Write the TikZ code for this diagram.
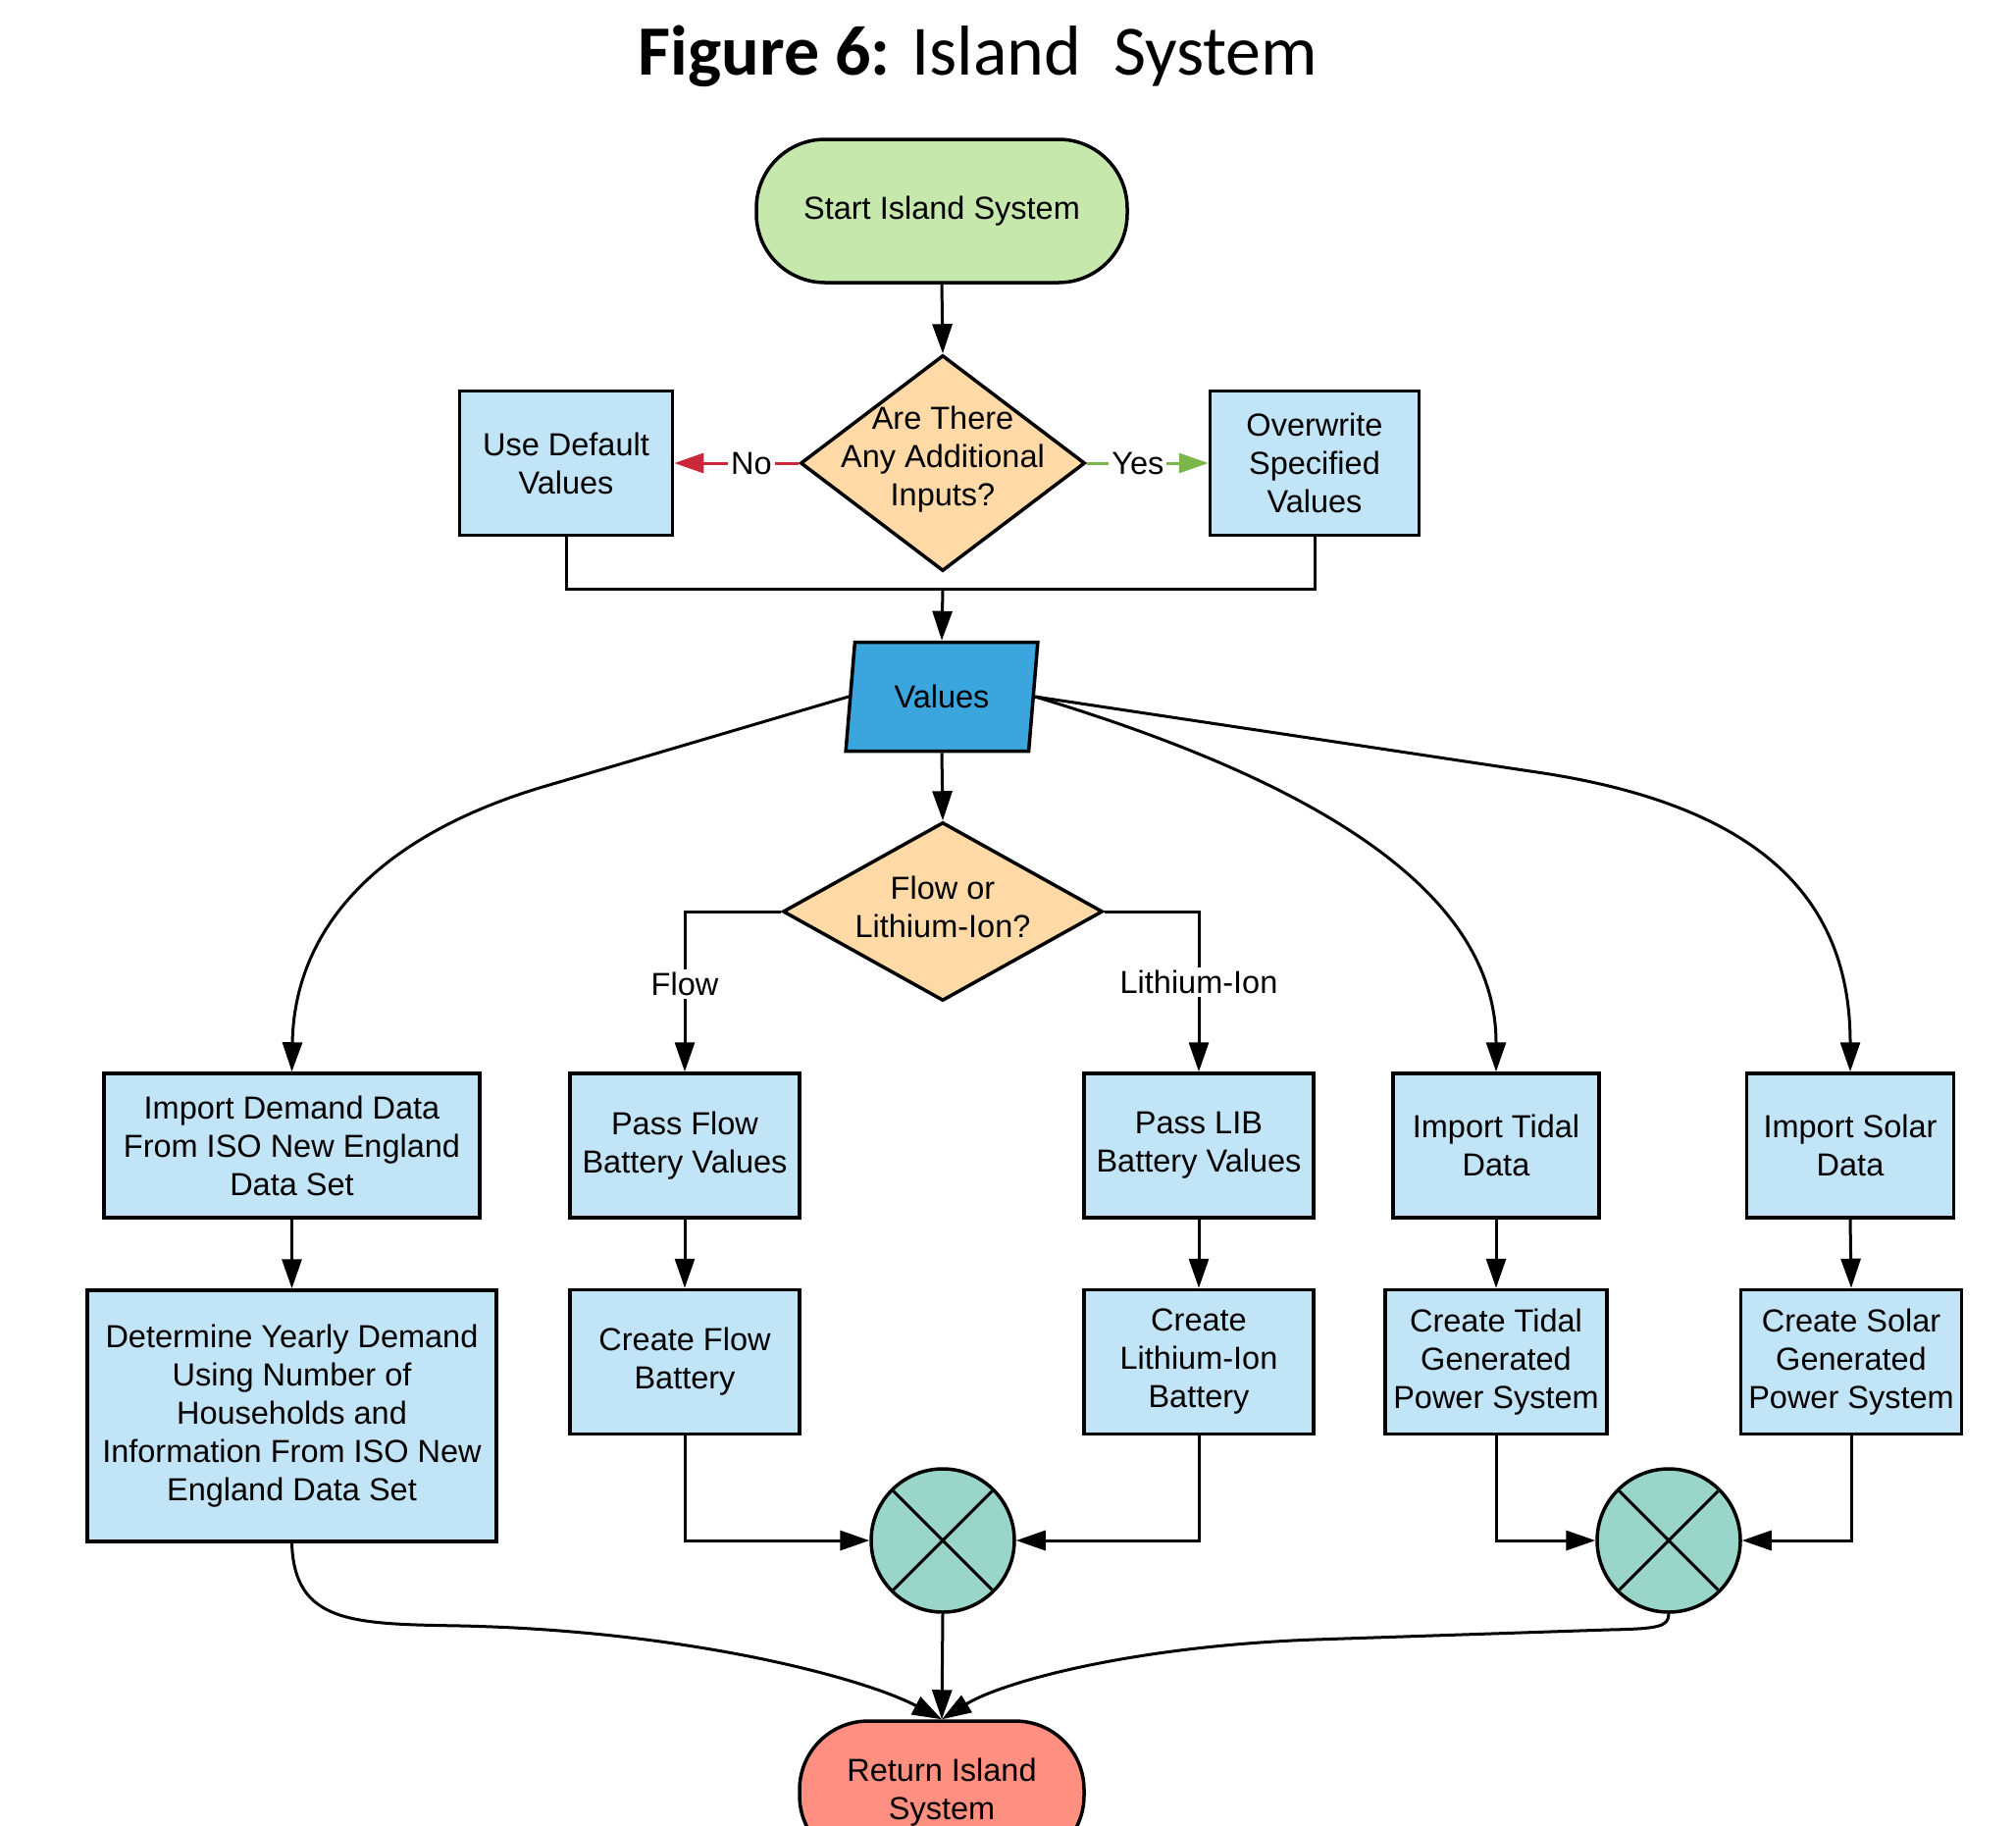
\documentclass[tikz,border=0pt]{standalone}
\usepackage{fontspec}
\setmainfont{Liberation Sans}
\newfontfamily\titlefont{Carlito}
\usetikzlibrary{shapes.geometric,arrows.meta}
\definecolor{startgreen}{RGB}{199,232,172}
\definecolor{decor}{RGB}{255,217,166}
\definecolor{boxblue}{RGB}{193,228,246}
\definecolor{valblue}{RGB}{58,166,221}
\definecolor{juncteal}{RGB}{154,213,202}
\definecolor{retred}{RGB}{255,143,128}
\definecolor{nored}{RGB}{200,40,58}
\definecolor{yesgreen}{RGB}{122,182,72}
\begin{document}
\begin{tikzpicture}[x=1pt,y=-1pt,
  every node/.style={font=\fontsize{32.5}{39}\selectfont},
  box/.style={draw, line width=3.5pt, fill=boxblue, align=center, inner sep=0pt, minimum height=147pt},
  term/.style={draw, line width=3.5pt, rounded corners=70pt, align=center, minimum width=290pt, minimum height=146pt},
  decision/.style={draw, line width=3.5pt, diamond, fill=decor, inner sep=0pt},
  junc/.style={draw, line width=3.5pt, circle, fill=juncteal, minimum size=146pt, inner sep=0pt},
  txt/.style={align=center, inner sep=0pt},
  lbl/.style={fill=white, inner sep=3pt},
  conn/.style={line width=3pt},
  arr/.style={line width=3pt, -{Triangle[length=30pt,width=20pt]}},
]
\useasboundingbox (0,0) rectangle (2055,1860);

% title
\node[anchor=base, inner sep=0pt, font=\titlefont\fontsize{72}{80}\selectfont] (title) at (997,76) {\textbf{Figure 6:} Island\ \ System};

% start
\node[term, fill=startgreen, minimum width=378pt] (ST) at (960,215) {Start Island System};

% decision 1
\node[decision, minimum width=290pt, minimum height=220pt] (D1) at (961,472) {};
\node[txt] (D1t) at (961,468) {Are There\\Any Additional\\Inputs?};

\node[box, minimum width=217pt] (UD) at (577,472) {Use Default\\Values};
\node[box, minimum width=213pt] (OV) at (1340,472) {Overwrite\\Specified\\Values};

% values
\node[draw, line width=3.5pt, trapezium, trapezium left angle=78, trapezium right angle=102,
      trapezium stretches=true, minimum width=196pt, minimum height=111pt, fill=valblue, inner sep=0pt] (V) at (960,710) {Values};

% decision 2
\node[decision, minimum width=326pt, minimum height=182pt] (D2) at (961,929) {};
\node[txt] (D2t) at (961,924) {Flow or\\Lithium-Ion?};

% row 1
\node[box, minimum width=383pt] (ID) at (297.5,1167.5) {Import Demand Data\\From ISO New England\\Data Set};
\node[box, minimum width=234pt] (PF) at (698,1167.5) {Pass Flow\\Battery Values};
\node[box, minimum width=234pt] (PL) at (1222,1167.5) {Pass LIB\\Battery Values};
\node[box, minimum width=210pt] (IT) at (1525,1167.5) {Import Tidal\\Data};
\node[box, minimum width=211pt] (IS) at (1886,1167.5) {Import Solar\\Data};

% row 2
\node[box, minimum width=417pt, minimum height=256pt] (DY) at (297.5,1443) {Determine Yearly Demand\\Using Number of\\Households and\\Information From ISO New\\England Data Set};
\node[box, minimum width=234pt] (CF) at (698,1388) {Create Flow\\Battery};
\node[box, minimum width=234pt] (CL) at (1222,1388) {Create\\Lithium-Ion\\Battery};
\node[box, minimum width=226pt] (CT) at (1525,1388) {Create Tidal\\Generated\\Power System};
\node[box, minimum width=225pt] (CS) at (1887,1388) {Create Solar\\Generated\\Power System};

% junctions
\node[junc] (C1) at (961,1570) {};
\node[junc] (C2) at (1701,1570) {};
\draw[line width=3pt] (C1.center) -- ++(45:71) (C1.center) -- ++(135:71) (C1.center) -- ++(225:71) (C1.center) -- ++(315:71);
\draw[line width=3pt] (C2.center) -- ++(45:71) (C2.center) -- ++(135:71) (C2.center) -- ++(225:71) (C2.center) -- ++(315:71);

% return
\node[term, fill=retred] (RT) at (960,1827) {Return Island\\System};

% connectors
\draw[arr] (ST.south) -- (D1.north);
\draw[line width=3pt, nored, -{Triangle[length=30pt,width=20pt]}] (D1.west) -- node[lbl, pos=0.38, text=black] {No} (UD.east);
\draw[line width=3pt, yesgreen, -{Triangle[length=30pt,width=20pt]}] (D1.east) -- node[lbl, pos=0.42, text=black] {Yes} (OV.west);
\coordinate (M1) at (961,600);
\draw[conn] (UD.south) |- (M1) -| (OV.south);
\draw[arr] (M1) -- (V.north);
\draw[arr] (V.south) -- (D2.north);

\draw[arr] (D2.west) -| node[lbl, pos=0.727] {Flow} (PF.north);
\draw[arr] (D2.east) -| node[lbl, pos=0.72] {Lithium-Ion} (PL.north);

\draw[arr] (V.west) -- (560,800) .. controls (380,852) and (300,950) .. (ID.north);
\draw[arr] (V.east) .. controls (1320,790) and (1525,900) .. (IT.north);
\draw[arr] (V.east) -- (1560,786) .. controls (1800,820) and (1886,920) .. (IS.north);

\draw[arr] (ID.south) -- (DY.north);
\draw[arr] (PF.south) -- (CF.north);
\draw[arr] (PL.south) -- (CL.north);
\draw[arr] (IT.south) -- (CT.north);
\draw[arr] (IS.south) -- (CS.north);

\draw[arr] (CF.south) |- (C1.west);
\draw[arr] (CL.south) |- (C1.east);
\draw[arr] (CT.south) |- (C2.west);
\draw[arr] (CS.south) |- (C2.east);

\draw[arr] (C1.south) -- (RT.north);
\draw[arr] (DY.south) .. controls (300,1655) and (360,1655) .. (470,1657) .. controls (700,1662) and (880,1710) .. (RT.north);
\draw[arr] (C2.south) .. controls (1701,1658) and (1690,1660) .. (1640,1661) -- (1340,1671) .. controls (1150,1678) and (1020,1715) .. (RT.north);
\end{tikzpicture}
\end{document}
